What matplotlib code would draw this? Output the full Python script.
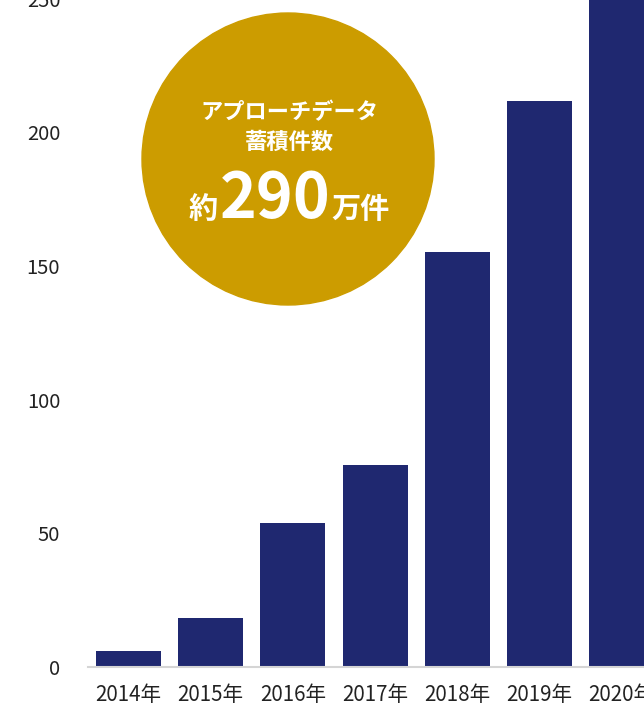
import matplotlib
matplotlib.use("Agg")
from matplotlib import pyplot as plt
from matplotlib.patches import Circle
from matplotlib.transforms import IdentityTransform

plt.rcParams['font.family'] = ['Noto Sans CJK JP', 'DejaVu Sans']

# data (万件)
years = ['2014年', '2015年', '2016年', '2017年', '2018年', '2019年', '2020年']
counts = [6, 18.3, 54, 75.5, 155.2, 211.7, 290]
yticks = [0, 50, 100, 150, 200, 250]

W, H = 644, 710
fig = plt.figure(figsize=(W / 100, H / 100), dpi=100)

# axes placed in pixels, partly outside the figure (the reference is a crop)
px_unit = 133.7 / 50
x0_px, x1_px = 88, 720
y0_px = 667
ytop = 300
ytop_px = y0_px - ytop * px_unit
ax = fig.add_axes([x0_px / W, (H - y0_px) / H, (x1_px - x0_px) / W, (y0_px - ytop_px) / H])

step = 82.2
c0 = 128.5
ax.set_xlim((x0_px - c0) / step, (x1_px - c0) / step)
ax.set_ylim(0, ytop)

ax.bar(range(len(years)), counts, width=0.79, color='#1f2870')

for s in ['top', 'right', 'left']:
    ax.spines[s].set_visible(False)
ax.spines['bottom'].set_color('#d5d5d5')
ax.spines['bottom'].set_linewidth(1.5)

ax.set_yticks(yticks)
ax.set_yticklabels([str(v) for v in yticks])
ax.set_xticks(range(len(years)))
ax.set_xticklabels(years)
ax.tick_params(axis='y', length=0, pad=20, labelsize=14.5, labelcolor='#222222')
ax.tick_params(axis='x', length=0, pad=12, labelsize=14.8, labelcolor='#222222')

# badge circle
cx, cy, r = 288, H - 159, 146
fig.add_artist(Circle((cx, cy), r, transform=IdentityTransform(), color='#cc9c00', zorder=5))

def ptext(x, y, s, size, ha='center', weight='bold'):
    fig.text(x / W, (H - y) / H, s, fontsize=size, color='white', fontweight=weight,
             ha=ha, va='baseline', zorder=6)

ptext(289, 119, 'アプローチデータ', 16)
ptext(289, 149, '蓄積件数', 16)
ptext(275, 218, '290', 45)
ptext(218, 218, '約', 21, ha='right')
ptext(331, 218, '万件', 21, ha='left')

fig.savefig('out.png', dpi=100)
